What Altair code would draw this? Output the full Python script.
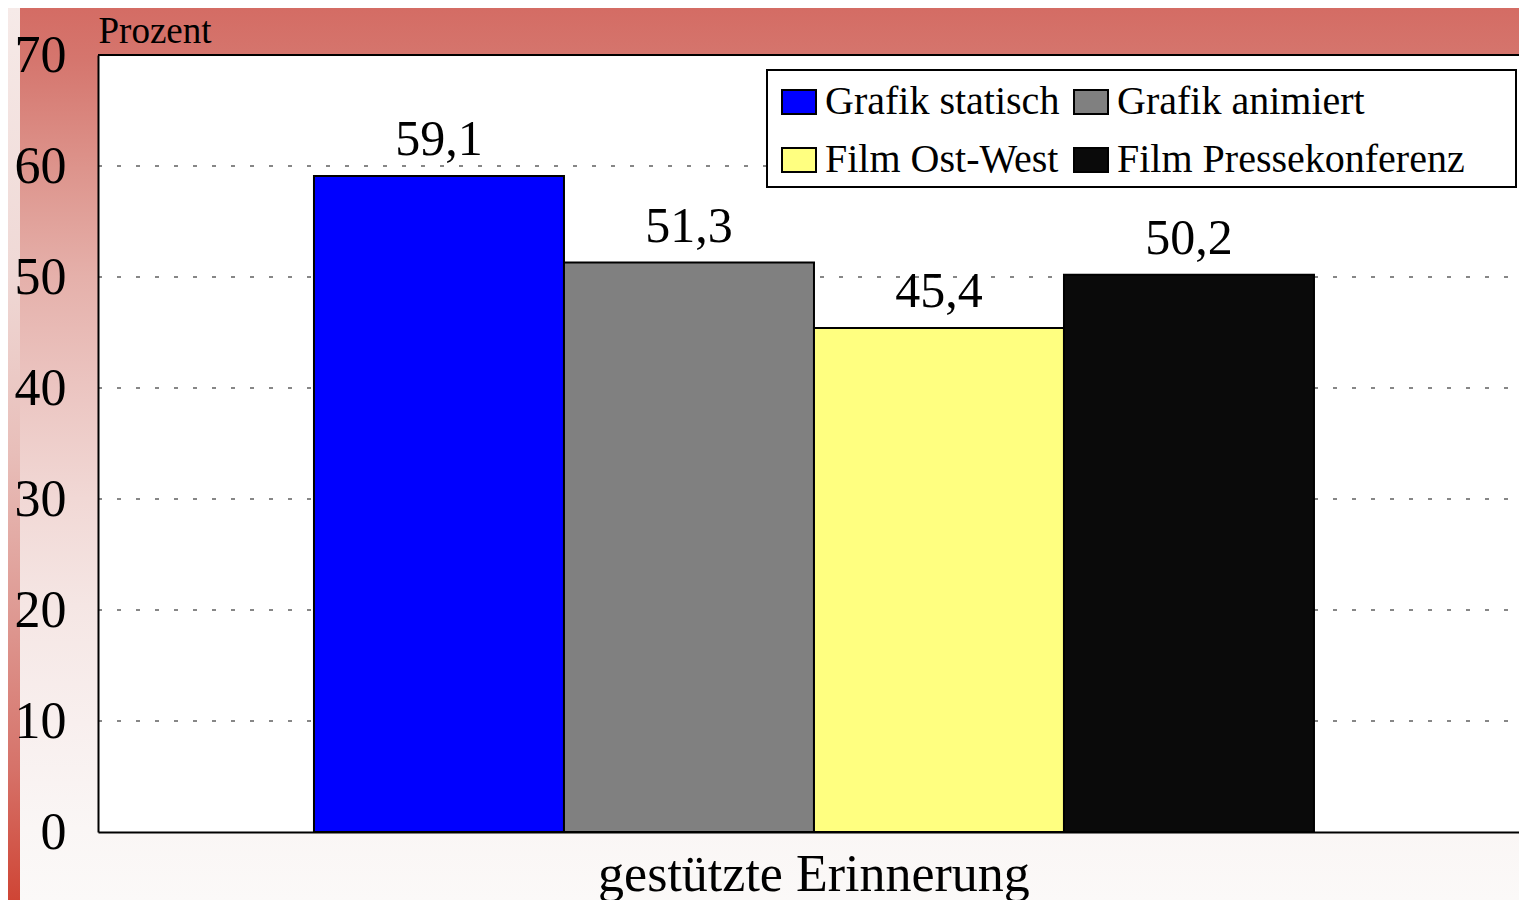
import altair as alt
import pandas as pd

# ---- data ----
categories = ["gestützte Erinnerung"]
series = ["Grafik statisch", "Grafik animiert", "Film Ost-West", "Film Pressekonferenz"]
values = [59.1, 51.3, 45.4, 50.2]
colors = ["#0000ff", "#808080", "#ffff80", "#0a0a0a"]
y_ticks = [0, 10, 20, 30, 40, 50, 60, 70]

FONT = "Liberation Serif"
W, H = 1421, 777
PAD_L, PAD_T, PAD_B = 90, 47, 68

df = pd.DataFrame({
    "category": categories * len(series),
    "series": series,
    "value": values,
})
grid_df = pd.DataFrame({"value": y_ticks[1:-1]})
one = pd.DataFrame({"k": [0]})

# ---- decorative background ----
bg_grad = alt.Gradient(
    gradient="linear", x1=0, x2=0, y1=0, y2=1,
    stops=[
        alt.GradientStop(offset=0.0, color="#d46c64"),
        alt.GradientStop(offset=0.06, color="#d5766e"),
        alt.GradientStop(offset=0.18, color="#dd948c"),
        alt.GradientStop(offset=0.30, color="#e5b0aa"),
        alt.GradientStop(offset=0.42, color="#ebc4c0"),
        alt.GradientStop(offset=0.55, color="#f1d8d5"),
        alt.GradientStop(offset=0.67, color="#f5e6e4"),
        alt.GradientStop(offset=0.80, color="#f8efee"),
        alt.GradientStop(offset=0.92, color="#faf6f5"),
        alt.GradientStop(offset=1.0, color="#fbf9f8"),
    ],
)
strip_grad = alt.Gradient(
    gradient="linear", x1=0, x2=0, y1=0, y2=1,
    stops=[
        alt.GradientStop(offset=0.0, color="#f6eae8"),
        alt.GradientStop(offset=0.3, color="#efd8d5"),
        alt.GradientStop(offset=0.5, color="#e8beb9"),
        alt.GradientStop(offset=0.7, color="#dd958e"),
        alt.GradientStop(offset=0.85, color="#d6736a"),
        alt.GradientStop(offset=1.0, color="#cf4535"),
    ],
)

bg = alt.Chart(one).mark_rect(color=bg_grad).encode(
    x=alt.value(-PAD_L), x2=alt.value("width"),
    y=alt.value(-PAD_T), y2=alt.value(H + PAD_B),
)
strip = alt.Chart(one).mark_rect(color=strip_grad).encode(
    x=alt.value(-PAD_L), x2=alt.value(-PAD_L + 12),
    y=alt.value(-PAD_T), y2=alt.value(H + PAD_B),
)
plot_bg = alt.Chart(one).mark_rect(color="white").encode(
    x=alt.value(0), x2=alt.value("width"),
    y=alt.value(0), y2=alt.value("height"),
)
# frame of the legend (decoration)
legend_box = alt.Chart(one).mark_rect(fill="white", stroke="black", strokeWidth=2).encode(
    x=alt.value(669), x2=alt.value(1418),
    y=alt.value(15), y2=alt.value(132),
)

# ---- scales / encodings ----
y_scale = alt.Scale(domain=[0, 70], nice=False)
y_axis = alt.Axis(
    values=y_ticks, grid=False, ticks=False,
    labelFont=FONT, labelFontSize=52, labelColor="black", labelPadding=32,
    labelBaseline="middle",
    domainColor="black", domainWidth=2,
    title="Prozent", titleFont=FONT, titleFontSize=37, titleFontWeight="normal",
    titleColor="black", titleAngle=0, titleAlign="left", titleBaseline="alphabetic",
    titleX=0, titleY=-13, zindex=2,
)
y_enc = alt.Y("value:Q", scale=y_scale, axis=y_axis)
x_enc = alt.X(
    "category:N", title=None, sort=categories,
    scale=alt.Scale(paddingOuter=0.2105, paddingInner=0, align=0.513),
    axis=alt.Axis(
        labelAngle=0, labelFont=FONT, labelFontSize=52, labelColor="black", labelLimit=900,
        ticks=False, domainColor="black", domainWidth=2,
        labelPadding=58, labelBaseline="alphabetic", zindex=2,
    ),
)
xoff = alt.XOffset("series:N", sort=series, scale=alt.Scale(paddingInner=0, paddingOuter=0))

grid = alt.Chart(grid_df).mark_rule(color="#606060", strokeWidth=1.5, strokeDash=[4, 15]).encode(
    y=y_enc,
    x=alt.value(0), x2=alt.value("width"),
)

bars = alt.Chart(df).mark_bar(stroke="black", strokeWidth=2).encode(
    x=x_enc, xOffset=xoff, y=y_enc,
    color=alt.Color(
        "series:N", sort=series,
        scale=alt.Scale(domain=series, range=colors),
        legend=alt.Legend(
            title=None, orient="none", legendX=681, legendY=27, columns=2,
            direction="horizontal", padding=0,
            labelFont=FONT, labelFontSize=40, labelColor="black", labelLimit=500,
            labelOffset=6, rowPadding=18, columnPadding=10,
            symbolType="M-1,-0.706H1V0.706H-1Z", symbolSize=1156,
            symbolStrokeColor="black", symbolStrokeWidth=2, symbolOpacity=1,
        ),
    ),
)

labels = alt.Chart(df).transform_calculate(
    label="replace(format(datum.value, '.1f'), '.', ',')"
).mark_text(
    font=FONT, fontSize=50, color="black", baseline="alphabetic", align="center", dy=-21,
).encode(
    x=x_enc, xOffset=xoff, y=y_enc, text="label:N",
)

top_line = alt.Chart(one).mark_rule(color="black", strokeWidth=2).encode(
    x=alt.value(0), x2=alt.value("width"), y=alt.value(0),
)

chart = alt.layer(bg, strip, plot_bg, grid, bars, labels, top_line, legend_box).properties(
    width=W, height=H,
    padding={"left": PAD_L, "top": PAD_T, "right": 0, "bottom": PAD_B},
    autosize="none",
).configure(font=FONT).configure_view(stroke=None)

chart.save("out.html", embed_options={"renderer": "svg", "actions": False})
